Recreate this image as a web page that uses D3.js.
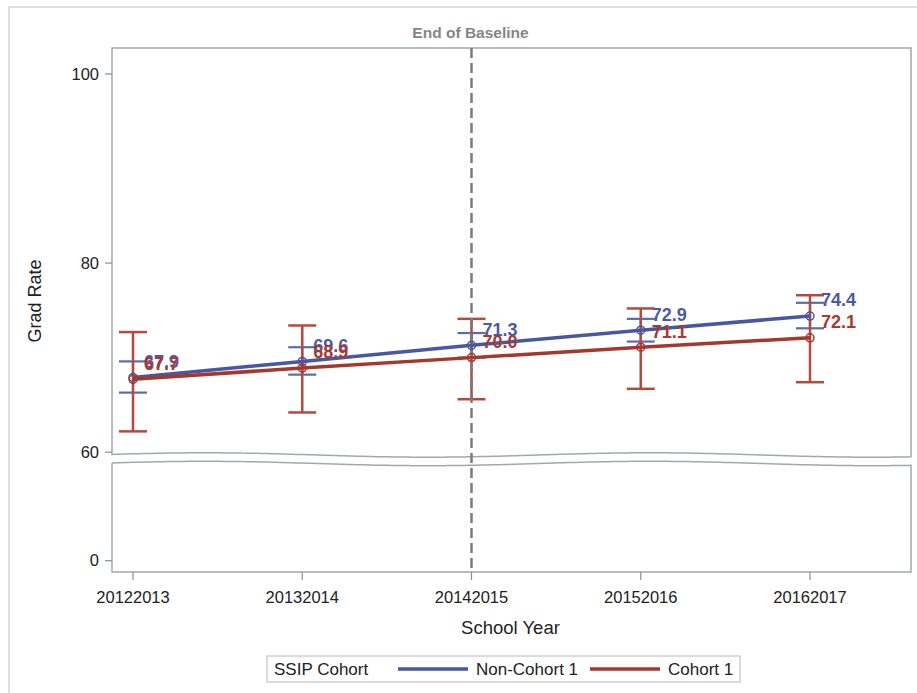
<!DOCTYPE html>
<html>
<head>
<meta charset="utf-8">
<script src="https://cdn.jsdelivr.net/npm/d3@7"></script>
<style>
  body { margin: 0; background: #fff; }
  svg { display: block; font-family: 'Liberation Sans', Arial, sans-serif; }
</style>
</head>
<body>
<svg id="chart"></svg>
<script>
// DATA
const years = ['20122013', '20132014', '20142015', '20152016', '20162017']
const nonCohort = [67.9, 69.6, 71.3, 72.9, 74.4]
const nonCohortLow = [66.3, 68.2, 70.0, 71.7, 73.1]
const nonCohortHigh = [69.6, 71.1, 72.6, 74.1, 75.8]
const cohort = [67.7, 68.9, 70.0, 71.1, 72.1]
const cohortLow = [62.2, 64.2, 65.6, 66.7, 67.4]
const cohortHigh = [72.7, 73.4, 74.1, 75.2, 76.6]
const upperTicks = [60, 80, 100]
const lowerTicks = [0]
const baselineYear = '20142015'
const seriesNames = ['Non-Cohort 1', 'Cohort 1']

// MARGIN CONVENTION
const totalWidth = 917,
  totalHeight = 693,
  plot = { left: 112, right: 911, top: 48, bottom: 572 },
  breakTop = 455,
  breakGap = 8.5

const blue = '#4757a0', blueBar = '#5a6aae'
const red = '#a5372c', redBar = '#b5493d'

var svg = d3.select('#chart')
  .attr('width', totalWidth)
  .attr('height', totalHeight)

// outer frame
svg.append('rect')
  .attr('x', 9).attr('y', 7)
  .attr('width', totalWidth).attr('height', totalHeight)
  .attr('fill', 'none')
  .attr('stroke', '#d4d4d4')
  .attr('stroke-width', 1.5)

// SCALES
var x = d3.scalePoint()
  .domain(years)
  .range([plot.left + 21, plot.right - 101])

var yUp = d3.scaleLinear()
  .domain([59.7, 102.75])
  .range([breakTop, plot.top])

var yLow = d3.scaleLinear()
  .domain([-1.2, 10])
  .range([plot.bottom, breakTop + breakGap + 3])

// wavy break edge
var wave = xx => breakTop - 2.2 * Math.cos(2 * Math.PI * (xx - 205) / 445)
var waveXs = d3.range(plot.left, plot.right + 0.1, 4)

var upperFrame = d3.line()([[plot.left, wave(plot.left)], [plot.left, plot.top], [plot.right, plot.top],
  [plot.right, wave(plot.right)]].concat(waveXs.slice().reverse().map(v => [v, wave(v)])))
svg.append('path')
  .attr('d', upperFrame + 'Z')
  .attr('fill', 'none')
  .attr('stroke', '#a3a8ad')
  .attr('stroke-width', 1.5)

var lowerFrame = d3.line()(waveXs.map(v => [v, wave(v) + breakGap]).concat([[plot.right, wave(plot.right) + breakGap],
  [plot.right, plot.bottom], [plot.left, plot.bottom], [plot.left, wave(plot.left) + breakGap]]))
svg.append('path')
  .attr('d', lowerFrame)
  .attr('fill', 'none')
  .attr('stroke', '#a3a8ad')
  .attr('stroke-width', 1.5)

// Y AXIS TICKS
var yTickData = upperTicks.map(v => ({ v: v, y: yUp(v) }))
  .concat(lowerTicks.map(v => ({ v: v, y: yLow(v) })))
var yt = svg.append('g')
yt.selectAll('line').data(yTickData).enter().append('line')
  .attr('x1', plot.left - 7).attr('x2', plot.left)
  .attr('y1', d => d.y).attr('y2', d => d.y)
  .attr('stroke', '#8a8f94').attr('stroke-width', 1.2)
yt.selectAll('text').data(yTickData).enter().append('text')
  .attr('x', plot.left - 13)
  .attr('y', d => d.y)
  .attr('dy', '0.35em')
  .attr('text-anchor', 'end')
  .attr('font-size', 16.5)
  .attr('fill', '#222')
  .text(d => d.v)

// X AXIS TICKS
var xt = svg.append('g')
xt.selectAll('line').data(years).enter().append('line')
  .attr('x1', d => x(d)).attr('x2', d => x(d))
  .attr('y1', plot.bottom).attr('y2', plot.bottom + 8)
  .attr('stroke', '#8a8f94').attr('stroke-width', 1.2)
xt.selectAll('text').data(years).enter().append('text')
  .attr('x', d => x(d))
  .attr('y', plot.bottom + 25)
  .attr('dy', '0.35em')
  .attr('text-anchor', 'middle')
  .attr('font-size', 16.5)
  .attr('fill', '#222')
  .text(d => d)

// AXIS LABELS
svg.append('text')
  .attr('x', (plot.left + plot.right) / 2 - 1)
  .attr('y', 628)
  .attr('dy', '0.35em')
  .attr('text-anchor', 'middle')
  .attr('font-size', 18.5)
  .attr('fill', '#222')
  .text('School Year')

svg.append('text')
  .attr('transform', `translate(35, ${(plot.top + plot.bottom) / 2 - 9}) rotate(-90)`)
  .attr('dy', '0.35em')
  .attr('text-anchor', 'middle')
  .attr('font-size', 18)
  .attr('fill', '#222')
  .text('Grad Rate')

// ERROR BARS
var capHalf = 14
function errorBars(low, high, color, width) {
  var g = svg.append('g')
    .attr('stroke', color)
    .attr('stroke-width', width)
  years.forEach((yr, i) => {
    var cx = x(yr)
    g.append('line')
      .attr('x1', cx).attr('x2', cx)
      .attr('y1', yUp(low[i])).attr('y2', yUp(high[i]))
    g.append('line')
      .attr('x1', cx - capHalf).attr('x2', cx + capHalf)
      .attr('y1', yUp(low[i])).attr('y2', yUp(low[i]))
    g.append('line')
      .attr('x1', cx - capHalf).attr('x2', cx + capHalf)
      .attr('y1', yUp(high[i])).attr('y2', yUp(high[i]))
  })
}
errorBars(nonCohortLow, nonCohortHigh, blueBar, 2.2)
errorBars(cohortLow, cohortHigh, redBar, 2.5)

// REFERENCE LINE
svg.append('line')
  .attr('x1', x(baselineYear)).attr('x2', x(baselineYear))
  .attr('y1', plot.top).attr('y2', plot.bottom)
  .attr('stroke', '#7b7b7b')
  .attr('stroke-width', 2.5)
  .attr('stroke-dasharray', '10, 5')

svg.append('text')
  .attr('x', x(baselineYear) - 1)
  .attr('y', 33)
  .attr('dy', '0.35em')
  .attr('text-anchor', 'middle')
  .attr('font-size', 15.5)
  .attr('font-weight', 'bold')
  .attr('fill', '#858585')
  .text('End of Baseline')

// SERIES LINES
var line = d3.line()
  .x((d, i) => x(years[i]))
  .y(d => yUp(d))

function series(vals, color) {
  svg.append('path')
    .datum(vals)
    .attr('d', line)
    .attr('fill', 'none')
    .attr('stroke', color)
    .attr('stroke-width', 3.5)
  svg.append('g').selectAll('circle')
    .data(vals).enter().append('circle')
    .attr('cx', (d, i) => x(years[i]))
    .attr('cy', d => yUp(d))
    .attr('r', 4)
    .attr('fill', 'none')
    .attr('stroke', color)
    .attr('stroke-width', 1.5)
}
series(nonCohort, blue)
series(cohort, red)

// DATA LABELS
function labels(vals, color) {
  svg.append('g').selectAll('text')
    .data(vals).enter().append('text')
    .attr('x', (d, i) => x(years[i]) + 11)
    .attr('y', d => yUp(d) - 16)
    .attr('dy', '0.35em')
    .attr('font-size', 18)
    .attr('font-weight', 'bold')
    .attr('fill', color)
    .text(d => d.toFixed(1))
}
labels(nonCohort, '#4a5aa3')
labels(cohort, '#a83a2f')

// LEGEND
var legend = svg.append('g')
legend.append('rect')
  .attr('x', 267).attr('y', 656)
  .attr('width', 473).attr('height', 26)
  .attr('fill', 'none')
  .attr('stroke', '#cfcfcf')
  .attr('stroke-width', 1.5)
legend.append('text')
  .attr('x', 274).attr('y', 669)
  .attr('dy', '0.35em')
  .attr('font-size', 17)
  .attr('fill', '#222')
  .text('SSIP Cohort')
var legendItems = [
  { name: seriesNames[0], color: blue, x0: 398 },
  { name: seriesNames[1], color: red, x0: 590 }
]
legendItems.forEach(d => {
  legend.append('line')
    .attr('x1', d.x0).attr('x2', d.x0 + 70)
    .attr('y1', 669).attr('y2', 669)
    .attr('stroke', d.color)
    .attr('stroke-width', 3.5)
  legend.append('text')
    .attr('x', d.x0 + 78).attr('y', 669)
    .attr('dy', '0.35em')
    .attr('font-size', 17)
    .attr('fill', '#222')
    .text(d.name)
})
</script>
</body>
</html>
